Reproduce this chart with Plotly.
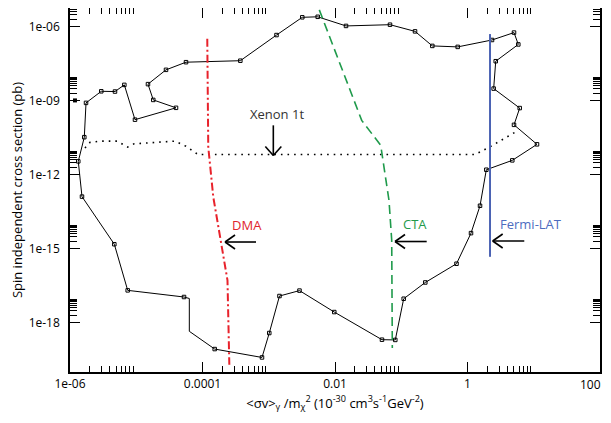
import numpy as np
import plotly.graph_objects as go

# ---------------- data (log10 values) ----------------
# closed boundary of the scanned region
loop_log_sv = [-5.129, -4.279, -4.199, -4.199, -3.816, -3.102, -2.992, -2.838, -2.536, -2.011,
               -1.291, -1.090, -0.963, -0.637, -0.166, 0.053, 0.189, 0.284, 0.676, 1.049,
               0.702, 0.788, 0.395, 0.426, 0.767, 0.702, 0.370, -0.148, -0.531, -0.792,
               -1.170, -1.834, -2.261, -2.494, -2.883, -3.429, -4.249, -4.551, -4.823, -4.743,
               -4.400, -5.019, -5.180, -5.321, -5.528, -5.758, -5.784, -5.875, -5.819, -5.331,
               -5.129]
loop_log_si = [-16.69, -16.96, -17.02, -18.35, -19.07, -19.41, -18.42, -16.92, -16.70, -17.57,
               -18.69, -18.70, -17.03, -16.37, -15.61, -14.37, -13.26, -11.80, -11.42, -10.77,
               -9.98, -9.30, -8.51, -7.40, -6.72, -6.24, -6.54, -6.82, -6.78, -6.19,
               -5.92, -5.97, -5.60, -5.62, -6.34, -7.38, -7.44, -7.75, -8.33, -8.97,
               -9.29, -9.77, -8.36, -8.63, -8.62, -9.09, -10.48, -11.46, -12.89, -14.82,
               -16.69]
unmarked_corners = [2, 3]

extra_point_log_sv = [-5.925]
extra_point_log_si = [-8.99]

# Xenon 1t projected limit
xenon_log_sv = [-5.774, -5.698, -5.547, -5.291, -5.129, -5.034, -4.415, -4.249, -4.068, 0.113, 0.340, 0.762]
xenon_log_si = [-10.92, -10.69, -10.64, -10.64, -10.88, -10.75, -10.64, -10.85, -11.18, -11.18, -10.87, -10.21]

# DMA
dma_log_sv = [-3.928, -3.913, -3.837, -3.721, -3.623, -3.595]
dma_log_si = [-6.49, -10.88, -12.91, -14.66, -16.28, -19.71]

# CTA
cta_log_sv = [-2.237, -1.597, -1.310, -1.185, -1.144, -1.135]
cta_log_si = [-5.32, -9.80, -10.81, -13.04, -14.66, -19.03]

# Fermi-LAT
fermi_log_sv = [0.340, 0.340]
fermi_log_si = [-6.30, -15.33]

# labels: text, x (log10), y (log10), colour, arrow tip / tail (log10)
labels = ["Xenon 1t", "DMA", "CTA", "Fermi-LAT"]
label_x = [-2.880, -3.321, -0.792, 0.954]
label_y = [-9.56, -14.05, -14.01, -14.01]
label_colors = ["#333333", "#e0242c", "#1f9a4b", "#4d6cbf"]
arrow_tip_x = [-2.931, -3.660, -1.094, 0.380]
arrow_tip_y = [-11.22, -14.73, -14.71, -14.69]
arrow_tail_x = [-2.931, -3.192, -0.616, 0.857]
arrow_tail_y = [-10.00, -14.73, -14.71, -14.69]

x_tick_vals = [1e-6, 1e-4, 1e-2, 1, 100]
x_tick_text = ["1e-06", "0.0001", "0.01", "1", "100"]
y_tick_vals = [1e-6, 1e-9, 1e-12, 1e-15, 1e-18]
y_tick_text = ["1e-06", "1e-09", "1e-12", "1e-15", "1e-18"]

# ---------------- figure ----------------
def p10(a):
    return 10 ** np.asarray(a, dtype=float)

fig = go.Figure()

fig.add_trace(go.Scatter(x=p10(loop_log_sv), y=p10(loop_log_si), mode="lines",
                         line=dict(color="black", width=1), showlegend=False, hoverinfo="skip"))
mask = [i for i in range(len(loop_log_sv) - 1) if i not in unmarked_corners]
fig.add_trace(go.Scatter(x=p10([loop_log_sv[i] for i in mask]), y=p10([loop_log_si[i] for i in mask]),
                         mode="markers",
                         marker=dict(symbol="square-open", size=3.5, color="black", line=dict(width=1)),
                         showlegend=False))
fig.add_trace(go.Scatter(x=p10(extra_point_log_sv), y=p10(extra_point_log_si), mode="markers",
                         marker=dict(symbol="square", size=4, color="black"), showlegend=False))

fig.add_trace(go.Scatter(x=p10(xenon_log_sv), y=p10(xenon_log_si), mode="lines",
                         line=dict(color="black", width=1.6, dash="1.6px,5px"), showlegend=False))
fig.add_trace(go.Scatter(x=p10(dma_log_sv), y=p10(dma_log_si), mode="lines",
                         line=dict(color="#e8222b", width=2, dash="8px,3px,2px,3px"), showlegend=False))
fig.add_trace(go.Scatter(x=p10(cta_log_sv), y=p10(cta_log_si), mode="lines",
                         line=dict(color="#1f9a4b", width=1.6, dash="9px,5px"), showlegend=False))
fig.add_trace(go.Scatter(x=p10(fermi_log_sv), y=p10(fermi_log_si), mode="lines",
                         line=dict(color="#4a62b3", width=2), showlegend=False))

# page geometry (the page body adds an 8px offset)
W, H = 603, 415
L, R, T, B = 62, 11, 0, 51
x_range = [-6, 2]
y_range = [-20, -5.243]
px_per_dec_x = (W - L - R) / (x_range[1] - x_range[0])
px_per_dec_y = (H - T - B) / (y_range[1] - y_range[0])

shapes = []
for tx, ty, sx, sy in zip(arrow_tip_x, arrow_tip_y, arrow_tail_x, arrow_tail_y):
    shapes.append(dict(type="line", xref="x", yref="y", x0=10 ** sx, y0=10 ** sy, x1=10 ** tx, y1=10 ** ty,
                       line=dict(color="black", width=1.6)))
    if abs(sx - tx) > 0:  # horizontal arrow pointing left
        hl, hw = 10 / px_per_dec_x, 7 / px_per_dec_y
        for s in (1, -1):
            shapes.append(dict(type="line", xref="x", yref="y", x0=10 ** tx, y0=10 ** ty,
                               x1=10 ** (tx + hl), y1=10 ** (ty + s * hw),
                               line=dict(color="black", width=1.6)))
    else:  # vertical arrow pointing down
        hl, hw = 9 / px_per_dec_y, 8 / px_per_dec_x
        for s in (1, -1):
            shapes.append(dict(type="line", xref="x", yref="y", x0=10 ** tx, y0=10 ** ty,
                               x1=10 ** (tx + s * hw), y1=10 ** (ty + hl),
                               line=dict(color="black", width=1.6)))

annotations = []
for t, x, y, c in zip(labels, label_x, label_y, label_colors):
    annotations.append(dict(text=t, x=x, y=y, xref="x", yref="y", showarrow=False,
                            font=dict(size=13, color=c, family="Open Sans")))

tick_font = dict(size=12, color="black", family="Open Sans")
# last x tick label sits at the window edge: draw it right-aligned so it stays visible
annotations.append(dict(text=x_tick_text[-1], x=1, y=0, xref="paper", yref="paper",
                        xanchor="right", yanchor="top", xshift=3, yshift=-2,
                        showarrow=False, font=tick_font))
x_tick_text_drawn = x_tick_text[:-1] + [""]

def minor_vals(majors):
    out = []
    for m in majors:
        out += [k * m for k in range(2, 10)]
    return out

axis_common = dict(type="log", showgrid=False, zeroline=False, showline=True, linecolor="black",
                   linewidth=1.5, mirror="ticks", ticks="inside", ticklen=10, tickwidth=1,
                   tickcolor="black", tickfont=tick_font,
                   tickmode="array", automargin=False, ticklabeloverflow="allow")

fig.update_layout(
    width=W, height=H, margin=dict(l=L, r=R, t=T, b=B, autoexpand=False),
    paper_bgcolor="white", plot_bgcolor="white",
    shapes=shapes, annotations=annotations,
    xaxis=dict(**axis_common, range=x_range, tickvals=x_tick_vals, ticktext=x_tick_text_drawn,
               minor=dict(tickmode="array", tickvals=minor_vals(x_tick_vals[:-1]), ticks="inside",
                          ticklen=6, tickcolor="black", tickwidth=1),
               title=dict(text="&lt;σv&gt;<sub>γ</sub> /m<sub>χ</sub><sup>2</sup> (10<sup>-30</sup> cm<sup>3</sup>s<sup>-1</sup>GeV<sup>-2</sup>)",
                          font=dict(size=13, color="black", family="Open Sans"), standoff=2)),
    yaxis=dict(**axis_common, range=y_range, tickvals=y_tick_vals, ticktext=y_tick_text,
               ticklabelstandoff=6,
               minor=dict(tickmode="array", tickvals=minor_vals(y_tick_vals), ticks="inside",
                          ticklen=7, tickcolor="black", tickwidth=1),
               title=dict(text="Spin independent cross section (pb)",
                          font=dict(size=13, color="black", family="Open Sans"), standoff=4)),
)

fig.write_html("out.html")
